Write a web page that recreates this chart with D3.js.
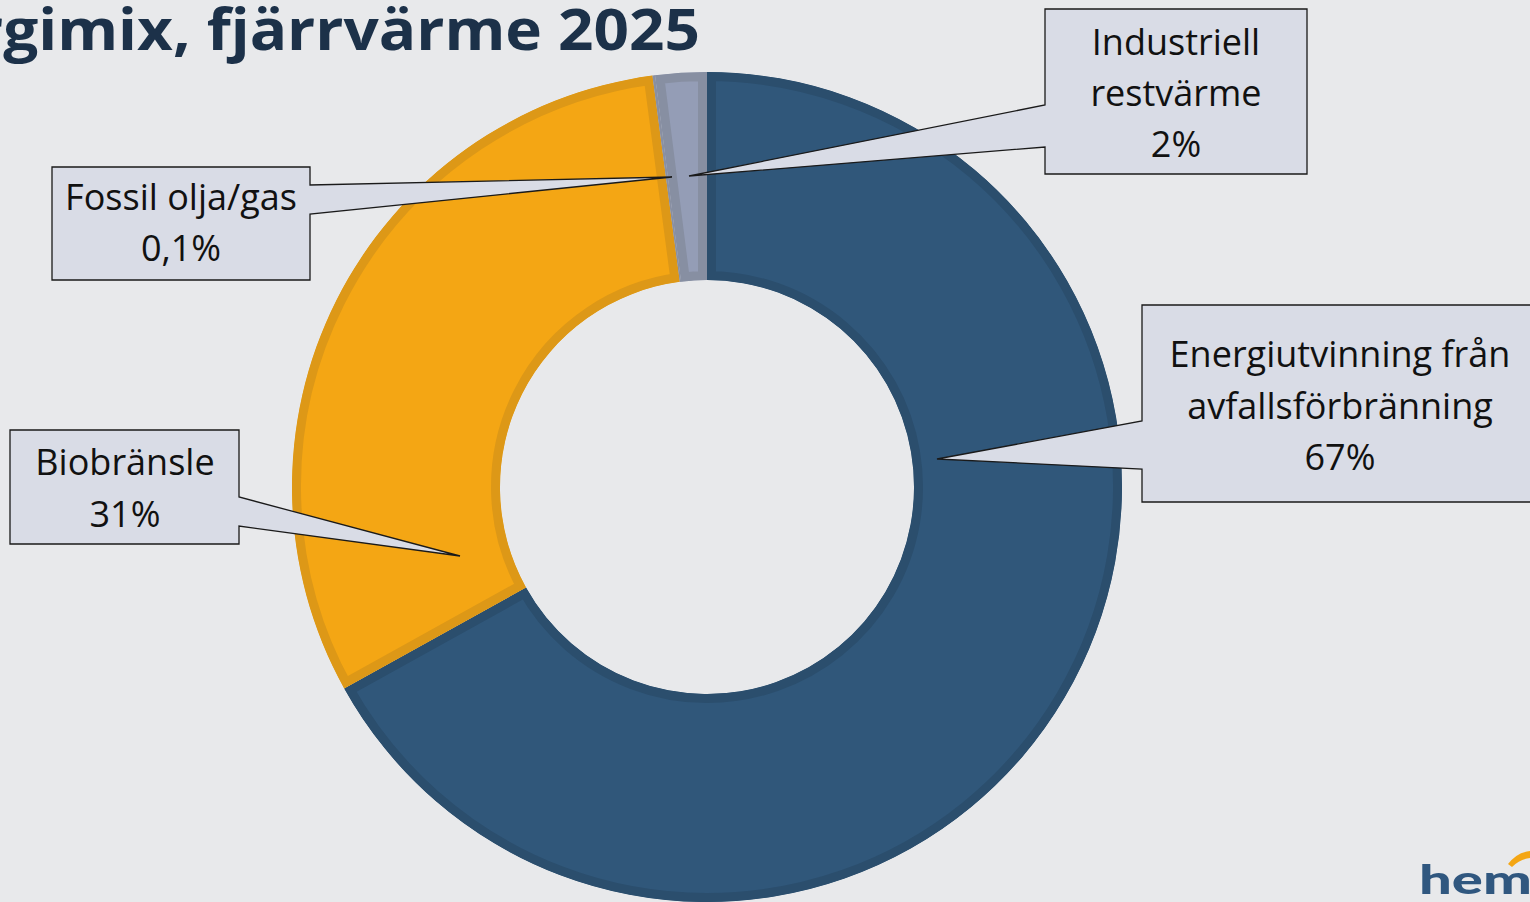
<!DOCTYPE html>
<html>
<head>
<meta charset="utf-8">
<style>
  body { margin: 0; background: #e8e9eb; overflow: hidden; }
  svg { display: block; }
  .label { font-family: "Open Sans", "Noto Sans", sans-serif; font-size: 36px; fill: #111; }
</style>
</head>
<body>
<svg width="1530" height="902"></svg>
<script src="https://cdn.jsdelivr.net/npm/d3@7"></script>
<script>
// data
var categories = ["Energiutvinning från avfallsförbränning", "Biobränsle", "Fossil olja/gas", "Industriell restvärme"];
var shares = [67, 31, 0.1, 2];
var shareLabels = ["67%", "31%", "0,1%", "2%"];
var labelLines = [["Energiutvinning från", "avfallsförbränning"], ["Biobränsle"], ["Fossil olja/gas"], ["Industriell", "restvärme"]];
var fills = ["#30577a", "#f4a614", "#8990a3", "#949db6"];
var edges = ["#2b4e6d", "#dd9817", "#8990a3", "#878fa2"];

var svg = d3.select("svg"),
    cx = 707, cy = 487,
    rOuter = 415, rInner = 207;

svg.append("rect").attr("width", 1530).attr("height", 902).attr("fill", "#e8e9eb");

var g = svg.append("g").attr("transform", "translate(" + cx + "," + cy + ")");

var pie = d3.pie().sort(null).value(function(d) { return d; });
var arc = d3.arc().innerRadius(rInner).outerRadius(rOuter);
var arcs = pie(shares);

var defs = svg.append("defs");
arcs.forEach(function(a, i) {
  defs.append("clipPath").attr("id", "clip" + i)
    .append("path").attr("d", arc(a));
});

// donut segments with an inner darker edge
g.selectAll(".seg")
  .data(arcs)
  .enter().append("path")
    .attr("class", "seg")
    .attr("d", arc)
    .attr("fill", function(d, i) { return fills[i]; })
    .attr("stroke", function(d, i) { return edges[i]; })
    .attr("stroke-width", 18)
    .attr("clip-path", function(d, i) { return "url(#clip" + i + ")"; });

// callouts: box, pointer base on a side, tip near the slice
var callouts = [
  {box: [1142, 305, 1545, 502], side: "left", base: [421, 469], tip: [937, 459], lines: [367, 418.5, 470], tx: 1340},
  {box: [10, 430, 239, 544], side: "right", base: [497, 526], tip: [460, 556], lines: [475, 527], tx: 125},
  {box: [52, 167, 310, 280], side: "right", base: [185, 214], tip: [672, 177], lines: [210, 261], tx: 181},
  {box: [1045, 9, 1307, 174], side: "left", base: [105, 147], tip: [689, 176], lines: [55, 106, 157], tx: 1176}
];

function calloutPath(c) {
  var x0 = c.box[0], y0 = c.box[1], x1 = c.box[2], y1 = c.box[3];
  var p = d3.path();
  if (c.side === "right") {
    p.moveTo(x0, y0); p.lineTo(x1, y0); p.lineTo(x1, c.base[0]);
    p.lineTo(c.tip[0], c.tip[1]); p.lineTo(x1, c.base[1]);
    p.lineTo(x1, y1); p.lineTo(x0, y1); p.closePath();
  } else {
    p.moveTo(x0, y0); p.lineTo(x1, y0); p.lineTo(x1, y1); p.lineTo(x0, y1);
    p.lineTo(x0, c.base[1]); p.lineTo(c.tip[0], c.tip[1]);
    p.lineTo(x0, c.base[0]); p.closePath();
  }
  return p.toString();
}

var co = svg.selectAll(".callout")
  .data(callouts)
  .enter().append("g").attr("class", "callout");

co.append("path")
  .attr("d", calloutPath)
  .attr("fill", "#d9dce6")
  .attr("stroke", "#1a1a1a")
  .attr("stroke-width", 1.3)
  .attr("stroke-linejoin", "miter");

co.each(function(c, i) {
  var texts = labelLines[i].concat([shareLabels[i]]);
  d3.select(this).selectAll("text")
    .data(texts)
    .enter().append("text")
      .attr("class", "label")
      .attr("x", c.tx)
      .attr("y", function(d, j) { return c.lines[j]; })
      .attr("text-anchor", "middle")
      .text(function(d) { return d; });
});

// title, clipped at the left edge
var title = svg.append("text")
  .attr("text-anchor", "end")
  .attr("font-family", "'Open Sans', 'Noto Sans', sans-serif")
  .attr("font-weight", "bold")
  .attr("font-size", 58)
  .attr("fill", "#1c3149")
  .text("Energimix, fjärrvärme 2025");
var tn = title.node();
var full = tn.getNumberOfChars();
var w = tn.getSubStringLength(4, full - 4);
var sx = 697 / w;
title.attr("transform", "translate(700,50) scale(" + sx + ",1)");

// logo fragment
svg.append("text")
  .attr("transform", "translate(1419,894) scale(1.45,1)")
  .attr("font-family", "Lato, sans-serif")
  .attr("font-weight", "900")
  .attr("font-size", 40)
  .attr("fill", "#30577f")
  .text("hemab");
svg.append("path")
  .attr("d", "M1508,864 Q1518,851 1532,851 L1532,858 Q1521,858 1512,867 Z")
  .attr("fill", "#f4a614");
</script>
</body>
</html>
